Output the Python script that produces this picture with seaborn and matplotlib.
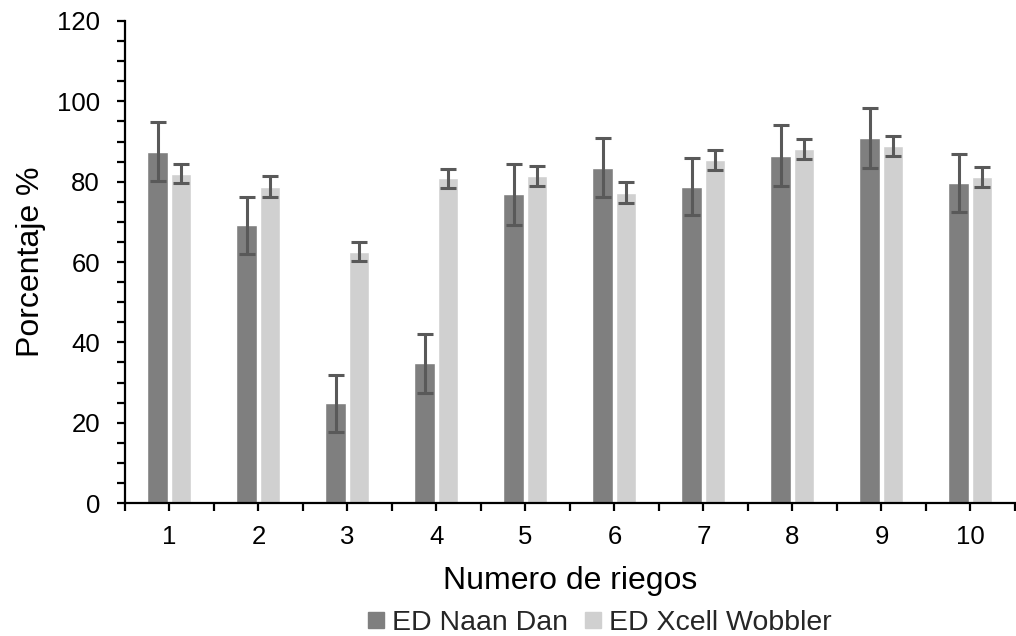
import matplotlib
matplotlib.use("Agg")
import matplotlib.pyplot as plt
import seaborn as sns
import pandas as pd
import numpy as np
from matplotlib.ticker import MultipleLocator, FixedLocator
from matplotlib.lines import Line2D

categories = ["1", "2", "3", "4", "5", "6", "7", "8", "9", "10"]
series_names = ["ED Naan Dan", "ED Xcell Wobbler"]
naan_dan = [87.5, 69.2, 24.8, 34.8, 76.9, 83.5, 78.8, 86.5, 90.8, 79.6]
naan_dan_err = [7.3, 7.1, 7.1, 7.4, 7.6, 7.4, 7.2, 7.6, 7.5, 7.2]
xcell = [82.0, 78.8, 62.6, 80.8, 81.5, 77.3, 85.4, 88.1, 88.9, 81.2]
xcell_err = [2.4, 2.5, 2.4, 2.4, 2.5, 2.5, 2.5, 2.5, 2.5, 2.4]

colors = ["#7f7f7f", "#d0d0d0"]
err_color = "#595959"

df = pd.DataFrame({
    "riego": categories * 2,
    "serie": [series_names[0]] * len(categories) + [series_names[1]] * len(categories),
    "valor": naan_dan + xcell,
    "err": naan_dan_err + xcell_err,
})

sns.set_style("white")
plt.rcParams["font.family"] = ["Liberation Sans", "DejaVu Sans"]

fig = plt.figure(figsize=(10.16, 6.36), dpi=100)
ax = fig.add_axes([0.123, 0.209, 0.876, 0.758])

sns.barplot(data=df, x="riego", y="valor", hue="serie", order=categories,
            hue_order=series_names, palette=colors, errorbar=None,
            width=0.52, gap=0.1, ax=ax, legend=False, saturation=1.0)

# error bars at bar positions
for i, name in enumerate(series_names):
    sub = df[df["serie"] == name]
    bars = ax.containers[i]
    xs = [b.get_x() + b.get_width() / 2 for b in bars]
    ax.errorbar(xs, sub["valor"].values, yerr=sub["err"].values, fmt="none",
                ecolor=err_color, elinewidth=2.2, capsize=5.5, capthick=2.2, zorder=5)

ax.set_xlim(-0.5, len(categories) - 0.5)
ax.set_ylim(0, 120)
ax.yaxis.set_major_locator(MultipleLocator(20))
ax.yaxis.set_minor_locator(MultipleLocator(5))
ax.xaxis.set_minor_locator(FixedLocator(np.arange(-0.5, len(categories), 1.0)))

for s in ["top", "right"]:
    ax.spines[s].set_visible(False)
for s in ["left", "bottom"]:
    ax.spines[s].set_color("black")
    ax.spines[s].set_linewidth(1.6)

ax.tick_params(axis="both", which="both", direction="out", length=6, width=1.6,
               color="black", labelsize=18.5, labelcolor="black")
ax.tick_params(axis="x", which="both", bottom=True, pad=10)
ax.tick_params(axis="y", which="both", left=True, pad=12)

ax.set_xlabel("Numero de riegos", fontsize=23, color="black", labelpad=12)
ax.set_ylabel("Porcentaje %", fontsize=23, color="black", labelpad=8)

handles = [Line2D([0], [0], marker="s", linestyle="none", markersize=12,
                  markerfacecolor=c, markeredgecolor=c) for c in colors]
fig.legend(handles, series_names, loc="lower center", bbox_to_anchor=(0.59, -0.04),
           ncol=2, frameon=False, fontsize=20.5, handlelength=0.6,
           handletextpad=0.25, columnspacing=0.6)

fig.savefig("out.png", dpi=100)
